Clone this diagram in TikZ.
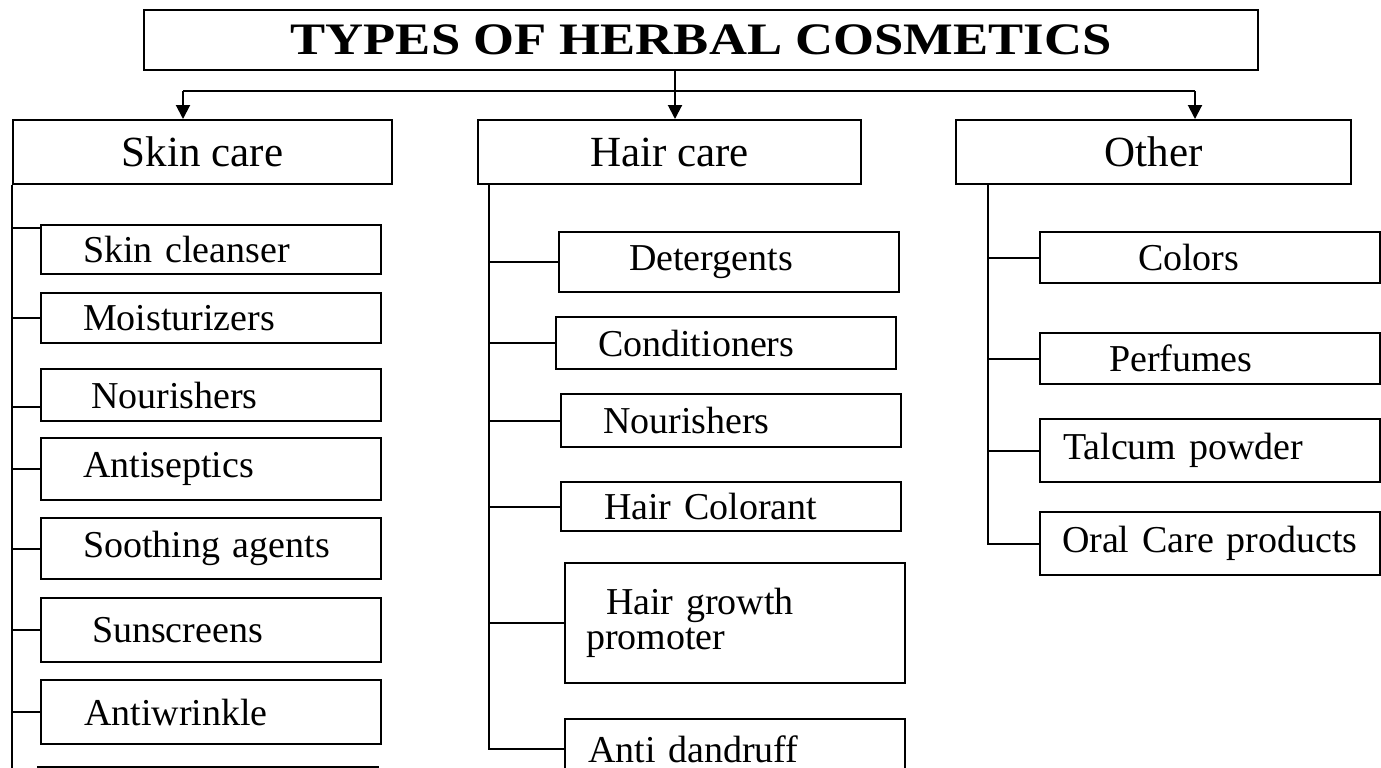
\documentclass[tikz,border=0pt]{standalone}
\usepackage{fontspec}
\setmainfont{Liberation Serif}
\newfontfamily\titlefont[FakeStretch=1.17]{Liberation Serif}
\usetikzlibrary{arrows.meta}

\begin{document}
\begin{tikzpicture}[x=0.5pt,y=-0.5pt,
    cbox/.style={draw,line width=1pt,anchor=north west,inner sep=0pt},
    head/.style={cbox,minimum height=32pt,font=\fontsize{21.5pt}{24pt}\selectfont},
    item/.style={cbox,text width=170pt,align=left,font=\fontsize{19pt}{17.5pt}\selectfont},
    link/.style={line width=1pt},
    arr/.style={link,-{Triangle[length=7pt,width=7pt]}}]
  \useasboundingbox (0,0) rectangle (1381,767);
  \clip (0,0) rectangle (1381,767);

  \node[cbox,minimum width=557pt,minimum height=30pt,
        font=\titlefont\bfseries\fontsize{22.5pt}{26pt}\selectfont] (title) at (143,9) {TYPES OF HERBAL COSMETICS};

  \node[head,minimum width=189.5pt] (skin) at (12,119) {Skin care};
  \node[head,minimum width=191.5pt] (hair) at (477,119) {Hair care};
  \node[head,minimum width=197.5pt] (other) at (955,119) {Other};

  \coordinate (lft) at (183,91);
  \coordinate (mid) at (675,91);
  \coordinate (rgt) at (1195,91);
  \draw[link] (lft) -- (rgt);
  \draw[arr] (title.south -| mid) -- (hair.north -| mid);
  \draw[arr] (lft) -- (skin.north -| lft);
  \draw[arr] (rgt) -- (other.north -| rgt);

  % skin care
  \node[item,minimum height=24.5pt] (sk1) at (40,224) {\hspace*{21pt}Skin cleanser};
  \node[item,minimum height=25pt] (sk2) at (40,292) {\hspace*{21pt}Moisturizers};
  \node[item,minimum height=26pt] (sk3) at (40,368) {\hspace*{25pt}Nourishers};
  \node[item,minimum height=31pt] (sk4) at (40,437) {\hspace*{21pt}Antiseptics};
  \node[item,minimum height=30.5pt] (sk5) at (40,517) {\hspace*{21pt}Soothing agents};
  \node[item,minimum height=32pt] (sk6) at (40,597) {\hspace*{25.5pt}Sunscreens};
  \node[item,minimum height=32pt] (sk7) at (40,679) {\hspace*{21.5pt}Antiwrinkle};
  \node[item,minimum height=32pt] (sk8) at (37,766) {};

  \coordinate (skbot) at (12,790);
  \coordinate (sk1b) at ([yshift=-2pt]sk1.north west);
  \coordinate (sk3b) at ([yshift=-6pt]sk3.west);
  \draw[link] (skin.south west) -- (skbot);
  \draw[link] (sk1b -| skin.south west) -- (sk1b);
  \draw[link] (sk3b -| skin.south west) -- (sk3b);
  \foreach \n in {sk2,sk4,sk5,sk6,sk7}
    \draw[link] (\n.west -| skin.south west) -- (\n.west);

  % hair care
  \node[item,minimum height=30pt] (hr1) at (558,231) {\hspace*{35pt}Detergents};
  \node[item,minimum height=26pt] (hr2) at (555,316) {\hspace*{21pt}Conditioners};
  \node[item,minimum height=26.5pt] (hr3) at (560,393) {\hspace*{21pt}Nourishers};
  \node[item,minimum height=24.5pt] (hr4) at (560,481) {\hspace*{21.5pt}Hair Colorant};
  \node[item,minimum height=60pt] (hr5) at (564,562) {\hspace*{20.5pt}Hair growth\\\hspace*{10.5pt}promoter};
  \node[item,minimum height=30pt] (hr6) at (564,718) {\hspace*{11.5pt}Anti dandruff};

  \coordinate (hrtop) at ([xshift=6pt]hair.south west);
  \draw[link] (hrtop) |- (hr6.west);
  \foreach \n in {hr1,hr2,hr3,hr4,hr5}
    \draw[link] (\n.west -| hrtop) -- (\n.west);

  % other
  \node[item,minimum height=25.5pt] (ot1) at (1039,231) {\hspace*{49pt}Colors};
  \node[item,minimum height=25.5pt] (ot2) at (1039,332) {\hspace*{34.5pt}Perfumes};
  \node[item,minimum height=31.5pt] (ot3) at (1039,418) {\hspace*{11.5pt}Talcum powder};
  \node[item,minimum height=31.5pt] (ot4) at (1039,511) {\hspace*{11pt}Oral Care products};

  \coordinate (ottop) at ([xshift=16.5pt]other.south west);
  \draw[link] (ottop) |- (ot4.west);
  \foreach \n in {ot1,ot2,ot3}
    \draw[link] (\n.west -| ottop) -- (\n.west);
\end{tikzpicture}
\end{document}
